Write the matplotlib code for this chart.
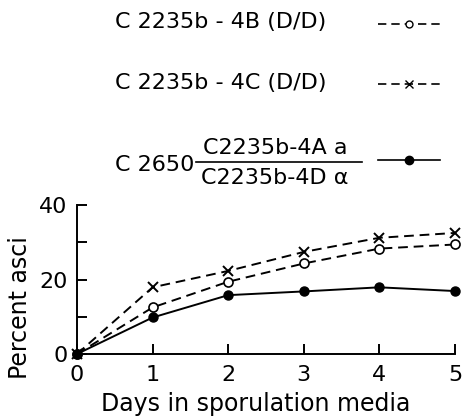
import matplotlib.pyplot as plt
from matplotlib.lines import Line2D

days = [0, 1, 2, 3, 4, 5]
strain_4b = [0, 12.5, 19.4, 24.3, 28.3, 29.4]
strain_4c = [0, 17.9, 22.3, 27.4, 31.2, 32.5]
strain_2650 = [0, 9.8, 15.8, 16.8, 17.9, 16.9]

label_4b = "C 2235b - 4B (D/D)"
label_4c = "C 2235b - 4C (D/D)"
label_2650 = "C 2650"
num_2650 = "C2235b-4A a"
den_2650 = "C2235b-4D \u03b1"

plt.rcParams['font.family'] = 'DejaVu Sans'
W, H = 464, 417
fig = plt.figure(figsize=(W / 100, H / 100), dpi=100)
ax = fig.add_axes([77 / W, 1 - 354 / H, (455 - 77) / W, (354 - 205) / H])

dash = (0, (5, 3))
ax.plot(days, strain_4b, color='black', lw=1.4, ls=dash, marker='o', ms=6.5,
        mfc='white', mec='black', mew=1.2, clip_on=False)
ax.plot(days, strain_4c, color='black', lw=1.4, ls=dash, marker='x', ms=7,
        mew=1.4, clip_on=False)
ax.plot(days, strain_2650, color='black', lw=1.4, marker='o', ms=6.5,
        clip_on=False)

ax.set_xlim(0, 5)
ax.set_ylim(0, 40)
ax.set_xticks(days)
ax.set_yticks([0, 10, 20, 30, 40])
ax.set_yticklabels(['0', '', '20', '', '40'])
for s in ['top', 'right']:
    ax.spines[s].set_visible(False)
for s in ['left', 'bottom']:
    ax.spines[s].set_linewidth(1.4)
ax.tick_params(direction='in', length=7, width=1.4, labelsize=16)
ax.tick_params(axis='x', pad=8)
ax.tick_params(axis='y', pad=7)
ax.set_xlabel("Days in sporulation media", fontsize=17)
ax.xaxis.set_label_coords(0.474, -0.255)
ax.set_ylabel("Percent asci", fontsize=17)
ax.yaxis.set_label_coords(-0.12, 0.315)

# legend, drawn by hand like the original
fs = 16
fig.text(115 / W, 1 - 22 / H, label_4b, fontsize=fs, va='center')
fig.text(115 / W, 1 - 83 / H, label_4c, fontsize=fs, va='center')
fig.text(115 / W, 1 - 165 / H, label_2650, fontsize=fs, va='center')
fig.text(275 / W, 1 - 148 / H, num_2650, fontsize=fs, va='center', ha='center')
fig.text(275 / W, 1 - 178 / H, den_2650, fontsize=fs, va='center', ha='center')
fig.add_artist(Line2D([196 / W, 362 / W], [1 - 162 / H] * 2, color='black', lw=1.2))

hx = [378 / W, 409 / W, 440 / W]
fig.add_artist(Line2D(hx, [1 - 24 / H] * 3, color='black', lw=1.2, ls=dash,
                      marker='o', ms=5, mfc='white', mec='black', markevery=[1]))
fig.add_artist(Line2D(hx, [1 - 84 / H] * 3, color='black', lw=1.2, ls=dash,
                      marker='x', ms=6, markevery=[1]))
fig.add_artist(Line2D(hx, [1 - 160 / H] * 3, color='black', lw=1.2,
                      marker='o', ms=6, markevery=[1]))

fig.savefig('out.png', dpi=100)
